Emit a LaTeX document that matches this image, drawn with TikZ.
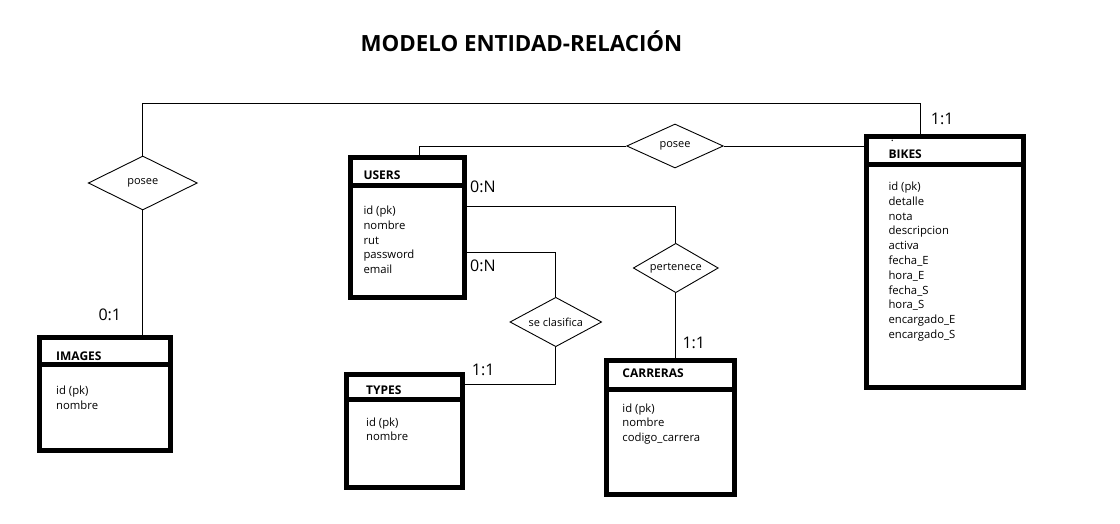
\documentclass[tikz,border=0pt]{standalone}
\usepackage{fontspec}
\setmainfont{Open Sans}
\usetikzlibrary{positioning, shapes.geometric}

\begin{document}
\begin{tikzpicture}[x=1pt, y=-1pt,
  entidad/.style={draw, line width=5pt, inner sep=0pt, outer sep=0pt},
  nombre/.style={font=\fontsize{12}{14}\selectfont\bfseries, inner sep=0pt, anchor=west},
  atrib/.style={font=\fontsize{11.3}{14.8}\selectfont, align=left, inner sep=0pt},
  relacion/.style={draw, diamond, aspect=1.8, line width=0.9pt, inner sep=0pt, font=\fontsize{11}{13}\selectfont},
  card/.style={font=\fontsize{16}{18}\selectfont, inner sep=0pt, anchor=base west},
  linea/.style={line width=0.9pt}]

  \useasboundingbox (0,0) rectangle (1120,524);

  % Titulo
  \node[font=\fontsize{22.3}{26}\selectfont\bfseries, anchor=base, inner sep=0pt] (titulo) at (521.5,51.7) {MODELO ENTIDAD-RELACIÓN};

  % --- Entidades ---
  % USERS
  \node[entidad, minimum width=114pt, minimum height=28.5pt] (users) at (407.5,171.75) {};
  \node[entidad, minimum width=114pt, minimum height=111pt, below=0pt of users] (usersb) {};
  \node[nombre, right=12.8pt of users.west, yshift=-3.2pt] (usersT) {USERS};
  \node[atrib, below right=19.7pt and 12.8pt of usersb.north west] (usersA)
    {id (pk)\\nombre\\rut\\password\\email};

  % BIKES
  \node[entidad, minimum width=157pt, minimum height=28.5pt] (bikes) at (945,150.75) {};
  \node[entidad, minimum width=157pt, minimum height=222.5pt, below=0pt of bikes] (bikesb) {};
  \node[nombre, right=21.8pt of bikes.west, yshift=-3pt] (bikesT) {BIKES};
  \node[atrib, inner sep=0pt] (punto) at (892.3,141) {.};
  \node[atrib, below right=16.7pt and 21.8pt of bikesb.north west] (bikesA)
    {id (pk)\\detalle\\nota\\descripcion\\activa\\fecha\_E\\hora\_E\\fecha\_S\\hora\_S\\encargado\_E\\encargado\_S};

  % IMAGES
  \node[entidad, minimum width=130.4pt, minimum height=26.5pt] (images) at (105,350.75) {};
  \node[entidad, minimum width=130.4pt, minimum height=86.2pt, below=0pt of images] (imagesb) {};
  \node[nombre, right=16.2pt of images.west, yshift=-5pt] (imagesT) {IMAGES};
  \node[atrib, below right=22pt and 16.2pt of imagesb.north west] (imagesA)
    {id (pk)\\nombre};

  % TYPES
  \node[entidad, minimum width=116pt, minimum height=24.8pt] (types) at (404.5,386.6) {};
  \node[entidad, minimum width=116pt, minimum height=88.5pt, below=0pt of types] (typesb) {};
  \node[nombre, right=19.5pt of types.west, yshift=-3.9pt] (typesT) {TYPES};
  \node[atrib, below right=18.3pt and 19.5pt of typesb.north west] (typesA)
    {id (pk)\\nombre};

  % CARRERAS
  \node[entidad, minimum width=128.3pt, minimum height=28.7pt] (carreras) at (670.6,375.15) {};
  \node[entidad, minimum width=128.3pt, minimum height=105.3pt, below=0pt of carreras] (carrerasb) {};
  \node[nombre, right=15.8pt of carreras.west, yshift=2.1pt] (carrerasT) {CARRERAS};
  \node[atrib, below right=13.8pt and 15.8pt of carrerasb.north west] (carrerasA)
    {id (pk)\\nombre\\codigo\_carrera};

  % --- Relaciones ---
  \node[relacion, minimum width=109pt, minimum height=54pt] (poseeI) at (142.8,183) {posee};
  \node[relacion, minimum width=96.6pt, minimum height=44pt] (poseeU) at (675,146) {posee};
  \node[relacion, minimum width=85pt, minimum height=49.4pt] (pertenece) at (675.8,268) {pertenece};
  \node[relacion, minimum width=91.7pt, minimum height=49.4pt] (clasifica) at (555.8,322) {se clasifica};

  % --- Conectores ---
  \coordinate (esquina) at (920.7,103.3);
  \draw[linea] (poseeI.south) -- (poseeI.south |- images.north);
  \draw[linea] (poseeI.north) |- (esquina) -- (esquina |- bikes.north);
  \draw[linea] (poseeU.west) -| ([xshift=11.8pt]users.north);
  \draw[linea] (poseeU.east) -- (poseeU.east -| bikes.west);
  \draw[linea] ([yshift=-20.5pt]usersb.north east) -| (pertenece.north);
  \draw[linea] (pertenece.south) -- (pertenece.south |- carreras.north);
  \draw[linea] ([yshift=-66.7pt]usersb.north east) -| (clasifica.north);
  \draw[linea] (clasifica.south) |- ([yshift=2pt]types.east);

  % Cardinalidades
  \node[card] (cBikes) at (930.7,125) {1:1};
  \node[card] (cImages) at (98.3,320.7) {0:1};
  \node[card] (cUsers1) at (470,192.7) {0:N};
  \node[card] (cUsers2) at (470,271) {0:N};
  \node[card] (cTypes) at (471.7,375.7) {1:1};
  \node[card] (cCarreras) at (682.3,348.3) {1:1};

\end{tikzpicture}
\end{document}
